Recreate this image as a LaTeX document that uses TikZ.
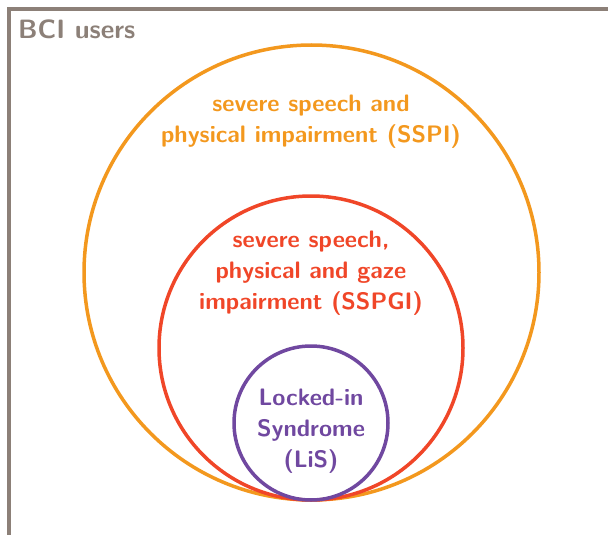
\documentclass[tikz,border=0pt]{standalone}
\usepackage{xcolor}
\definecolor{frameGray}{RGB}{140,128,120}
\definecolor{sspiOrange}{RGB}{243,152,30}
\definecolor{sspgiRed}{RGB}{240,70,40}
\definecolor{lisPurple}{RGB}{112,72,160}
\begin{document}
\begin{tikzpicture}[x=1pt,y=-1pt,
  ring/.style={line width=3.5pt},
  lbl/.style={font=\sffamily\bfseries\fontsize{23.8}{31}\selectfont, align=center, inner sep=0pt}]
\useasboundingbox (0,0) rectangle (608,535);
% outer frame of the BCI user population
\coordinate (fb) at (9,535);
\coordinate (fc) at (9,9);
\coordinate (fr) at (608,9);
\draw[frameGray, line width=4pt] (fb) -- (fc) -- (fr);
\node[font=\sffamily\bfseries\fontsize{26.5}{30}\selectfont, text=frameGray, anchor=west, inner sep=0pt] (bci) at (18,29) {BCI users};
% nested populations
\node[ring, draw=sspiOrange, circle, minimum size=455pt, inner sep=0pt] (sspi) at (311.5,272.5) {};
\node[ring, draw=sspgiRed, circle, minimum size=304pt, inner sep=0pt] (sspgi) at (311,348) {};
\node[ring, draw=lisPurple, circle, minimum size=154pt, inner sep=0pt] (lis) at (311,423) {};
% labels
\node[lbl, text=sspiOrange] (tsspi) at (311,122) {severe speech and\\physical impairment (SSPI)};
\node[lbl, text=sspgiRed] (tsspgi) at (311,273) {severe speech,\\physical and gaze\\impairment (SSPGI)};
\node[lbl, text=lisPurple] (tlis) at (311,431.5) {Locked-in\\Syndrome\\(LiS)};
\end{tikzpicture}
\end{document}
